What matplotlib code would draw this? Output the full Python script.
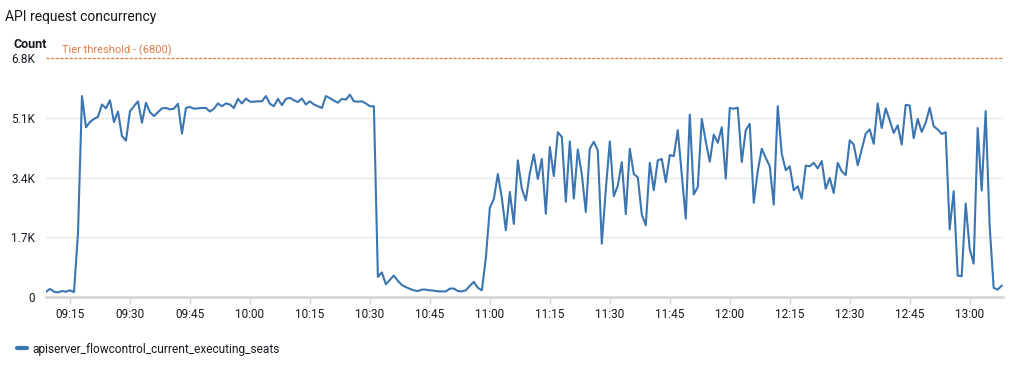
import matplotlib
matplotlib.use("Agg")
import matplotlib.pyplot as plt
import matplotlib.dates as mdates
from matplotlib.lines import Line2D
import pandas as pd

plt.rcParams['font.family'] = ['Roboto', 'DejaVu Sans']

# 1-minute samples, 09:09 -> 13:08
start_time = "2024-01-01 09:09"
seats = [
    150, 230, 150, 130, 170, 150,
    190, 140, 1820, 5720, 4830, 4980, 5070, 5130, 5480, 5370,
    5600, 4980, 5280, 4580, 4450, 5290, 5430, 5570, 4960, 5530,
    5260, 5150, 5260, 5370, 5380, 5340, 5360, 5500, 4650, 5380,
    5410, 5360, 5370, 5380, 5380, 5280, 5360, 5510, 5430, 5510,
    5480, 5380, 5640, 5510, 5650, 5560, 5560, 5570, 5570, 5720,
    5500, 5430, 5640, 5460, 5640, 5670, 5600, 5550, 5650, 5480,
    5570, 5480, 5430, 5380, 5720, 5660, 5590, 5530, 5640, 5620,
    5760, 5570, 5560, 5570, 5510, 5430, 5430, 570, 700, 360,
    490, 610, 460, 340, 280, 230, 190, 170, 210, 210,
    190, 180, 160, 160, 160, 240, 240, 170, 160, 190,
    320, 430, 260, 190, 1110, 2540, 2790, 3500, 2820, 1900,
    2990, 2080, 3890, 3080, 2750, 3530, 4060, 3360, 3930, 2370,
    4270, 3440, 4690, 4560, 2710, 4430, 2800, 4200, 3490, 2420,
    4220, 4420, 4170, 1520, 3060, 4430, 2870, 3170, 3840, 2360,
    4220, 3500, 3410, 2350, 2040, 3820, 3040, 3890, 3930, 3270,
    4040, 4010, 4750, 3490, 2230, 5190, 2920, 3130, 5070, 4430,
    3850, 4620, 4390, 4830, 3370, 5380, 5360, 5390, 3840, 4750,
    4930, 2680, 3580, 4220, 3960, 3720, 2630, 5430, 4080, 3610,
    3720, 3040, 3150, 2800, 3740, 3720, 3820, 3660, 3870, 3080,
    3390, 2960, 3820, 3580, 3470, 4460, 4340, 3750, 4200, 4650,
    4770, 4360, 5510, 4810, 5370, 5030, 4670, 4890, 4340, 5470,
    5450, 4520, 5070, 4700, 4960, 5390, 4860, 4770, 4640, 4690,
    1920, 3010, 610, 590, 2660, 1370, 950, 4810, 3030, 5290,
    2010, 260, 210, 320,
]
times = pd.date_range(start_time, periods=len(seats), freq="min")

threshold = 6800
y_ticks = [0, 1700, 3400, 5100, 6800]
y_labels = ["0", "1.7K", "3.4K", "5.1K", "6.8K"]
series_name = "apiserver_flowcontrol_current_executing_seats"

line_color = "#3b76b1"
thr_color = "#dc7c4a"
text_color = "#16191f"

fig = plt.figure(figsize=(10.24, 3.69), dpi=100)
ax = fig.add_axes([46/1024, 72/369, 957/1024, 241/369])

ax.plot(times, seats, color=line_color, lw=1.5, label=series_name)
ax.axhline(threshold, color=thr_color, lw=0.9, ls=(0, (2.5, 1.2)))
ax.annotate("Tier threshold - (6800)", xy=(0.017, threshold),
            xycoords=("axes fraction", "data"), xytext=(0, 1.5),
            textcoords="offset points", color=thr_color, fontsize=8,
            va="bottom", ha="left")

ax.set_xlim(pd.Timestamp("2024-01-01 09:09"), pd.Timestamp("2024-01-01 13:08:20"))
ax.set_ylim(0, 6860)

ax.set_yticks(y_ticks)
ax.set_yticklabels(y_labels)
ax.tick_params(axis="y", length=0, pad=8, labelsize=8.5, labelcolor=text_color)
for v in y_ticks[1:-1]:
    ax.axhline(v, color="#e6e8ea", lw=1, zorder=0)

ax.xaxis.set_major_locator(mdates.MinuteLocator(byminute=[0, 15, 30, 45]))
ax.xaxis.set_major_formatter(mdates.DateFormatter("%H:%M"))
ax.tick_params(axis="x", length=5, width=1, color="#d5d8db", pad=3,
               labelsize=8.5, labelcolor=text_color)

for s in ["top", "right", "left"]:
    ax.spines[s].set_visible(False)
ax.spines["bottom"].set_color("#d5d8db")
ax.spines["bottom"].set_linewidth(2)

fig.text(5/1024, 1 - 17/369, "API request concurrency", fontsize=10,
         color=text_color, va="center", ha="left")
fig.text(13/1024, 1 - 45/369, "Count", fontsize=9, fontweight="bold",
         color=text_color, va="center", ha="left")

handle = Line2D([], [], color=line_color, lw=3, solid_capstyle="round")
fig.legend(handles=[handle], labels=[series_name], loc="center left",
           bbox_to_anchor=(17/1024, 1 - 349/369), frameon=False,
           handlelength=0.8, handletextpad=0.5, borderpad=0,
           borderaxespad=0, fontsize=8.6, labelcolor=text_color)

fig.savefig("out.png", dpi=100, facecolor="white")
